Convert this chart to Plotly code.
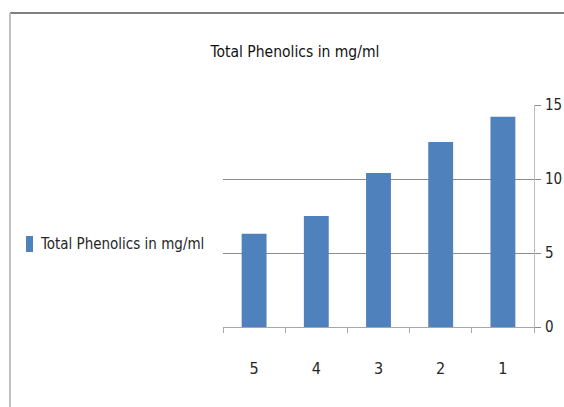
import plotly.graph_objects as go

# Sample categories and total phenolic content (mg/ml)
categories = ["5", "4", "3", "2", "1"]
phenolics = [6.3, 7.5, 10.4, 12.5, 14.2]
series_name = "Total Phenolics in mg/ml"
y_ticks = [0, 5, 10, 15]

W, H = 564, 407
ML, MR, MT, MB = 223, 30, 105, 80
PW, PH = W - ML - MR, H - MT - MB

FONT = "DejaVu Sans Condensed, Liberation Sans Narrow, sans-serif"
BAR_COLOR = "#4f81bd"


def px_x(p):
    return (p - ML) / PW


def px_y(p):
    return (H - MB - p) / PH


fig = go.Figure(
    go.Bar(
        x=categories,
        y=phenolics,
        name=series_name,
        marker=dict(color=BAR_COLOR, line=dict(width=0)),
        showlegend=False,
    )
)

fig.update_layout(
    width=W,
    height=H,
    margin=dict(l=ML, r=MR, t=MT, b=MB, autoexpand=False),
    paper_bgcolor="white",
    plot_bgcolor="white",
    bargap=0.6,
    font=dict(family=FONT, size=14, color="#262626"),
    title=dict(
        text=series_name,
        x=295 / W,
        xanchor="center",
        xref="container",
        y=1 - 52 / H,
        yanchor="middle",
        font=dict(family=FONT, size=15.5, color="#111111"),
    ),
    showlegend=False,
    xaxis=dict(
        type="category",
        automargin=False,
        showgrid=False,
        showline=True,
        linecolor="#a6a6a6",
        linewidth=1,
        ticks="outside",
        tickson="boundaries",
        ticklen=5,
        tickcolor="#a6a6a6",
        ticklabelstandoff=27,
        tickfont=dict(family=FONT, size=16, color="#262626"),
        zeroline=False,
    ),
    yaxis=dict(
        side="right",
        automargin=False,
        range=[0, 15],
        tickvals=y_ticks,
        showgrid=True,
        gridcolor="#8c8c8c",
        gridwidth=1,
        showline=True,
        linecolor="#bdbdbd",
        linewidth=1,
        ticks="outside",
        ticklen=6,
        tickcolor="#8c8c8c",
        ticklabelstandoff=1,
        tickfont=dict(family=FONT, size=15, color="#262626"),
        zeroline=False,
    ),
)

# Legend drawn beside the plot: colour key plus series name
fig.add_shape(type="rect", xref="paper", yref="paper",
              x0=px_x(26), x1=px_x(33), y0=px_y(252), y1=px_y(236),
              fillcolor=BAR_COLOR, line=dict(width=0))
fig.add_annotation(text=series_name, xref="paper", yref="paper",
                   x=px_x(38), y=px_y(244), xanchor="left", yanchor="middle",
                   showarrow=False,
                   font=dict(family=FONT, size=15, color="#262626"))

# Chart frame: darker top edge, lighter left edge
fig.add_shape(type="line", xref="paper", yref="paper",
              x0=px_x(10), x1=px_x(W), y0=px_y(13), y1=px_y(13),
              line=dict(color="#7f7f7f", width=2))
fig.add_shape(type="line", xref="paper", yref="paper",
              x0=px_x(10), x1=px_x(10), y0=px_y(13), y1=px_y(H),
              line=dict(color="#c0c0c0", width=2))

fig.write_html("out.html", config={"displayModeBar": False})
